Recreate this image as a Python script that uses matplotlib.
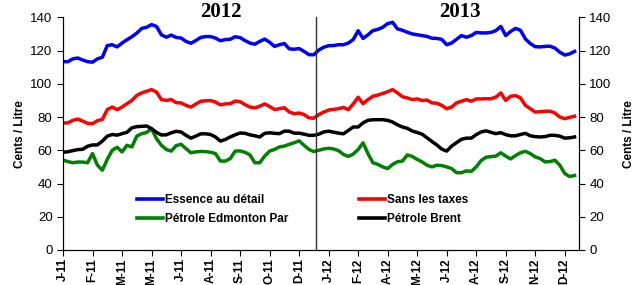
import matplotlib
matplotlib.use("Agg")
import matplotlib.pyplot as plt
import numpy as np

essence = [113.3, 113.3, 115.0, 115.5, 114.3, 113.3, 113.0, 115.0, 116.0, 123.0,
           123.5, 122.2, 124.5, 126.5, 128.3, 130.5, 133.3, 134.0, 135.6, 134.5,
           129.5, 128.0, 129.3, 127.9, 127.5, 125.5, 124.4, 126.0, 127.9, 128.4,
           128.4, 127.5, 125.9, 126.6, 126.8, 128.3, 127.8, 126.0, 124.5, 123.8,
           125.5, 126.9, 125.0, 122.5, 123.5, 124.2, 121.0, 120.8, 121.2, 119.5,
           117.5, 117.5, 120.3, 122.0, 122.9, 123.0, 123.5, 123.5, 124.5, 126.6,
           131.9, 127.3, 129.5, 132.0, 132.7, 134.0, 136.2, 137.0, 133.0, 132.2,
           131.0, 130.0, 129.5, 129.0, 128.5, 127.4, 127.3, 126.7, 123.5, 124.5,
           126.8, 129.0, 128.0, 129.0, 130.9, 130.6, 130.6, 130.9, 132.0, 134.5,
           129.0, 131.5, 133.3, 132.2, 127.0, 124.2, 122.3, 122.2, 122.5, 122.6,
           121.5, 119.0, 117.3, 118.0, 119.5]

sans_taxes = [76.4, 76.5, 78.0, 78.8, 77.5, 76.2, 76.0, 77.8, 78.6, 84.5,
              86.0, 84.4, 86.0, 88.0, 90.0, 93.0, 94.5, 95.5, 96.5, 95.0,
              90.5, 90.0, 90.5, 88.6, 88.5, 87.0, 86.0, 87.8, 89.5, 89.8,
              89.9, 89.0, 87.3, 87.9, 88.0, 89.6, 89.2, 87.5, 86.0, 85.5,
              86.5, 87.9, 86.3, 84.5, 85.0, 85.6, 83.0, 82.0, 82.4, 81.5,
              79.5, 79.3, 81.5, 83.0, 84.2, 84.6, 85.0, 85.8, 84.4, 87.9,
              91.9, 88.0, 90.5, 92.5, 93.2, 94.2, 95.2, 96.5, 94.5, 92.2,
              91.5, 90.5, 90.9, 89.9, 90.2, 88.5, 88.3, 87.0, 85.0, 86.0,
              88.5, 89.5, 90.5, 89.5, 90.9, 90.9, 91.0, 91.0, 92.0, 94.5,
              90.0, 92.5, 92.9, 91.5, 87.0, 85.0, 83.0, 83.2, 83.5, 83.5,
              82.4, 80.0, 79.0, 79.8, 80.5]

edmonton = [54.1, 53.2, 52.5, 52.9, 52.9, 52.5, 58.0, 51.0, 48.0, 54.5,
            60.0, 61.8, 59.0, 63.0, 62.0, 68.5, 70.0, 70.7, 73.0, 67.0,
            63.0, 60.5, 59.5, 62.8, 63.6, 61.0, 58.5, 59.0, 59.3, 59.2,
            58.8, 58.0, 53.5, 53.5, 55.0, 59.5, 59.6, 58.8, 57.2, 52.5,
            52.5, 56.5, 59.5, 60.5, 62.0, 62.5, 63.6, 64.5, 65.7, 63.0,
            60.5, 59.2, 60.0, 60.8, 61.2, 60.8, 59.8, 57.5, 56.3, 57.7,
            60.5, 64.5, 58.0, 52.5, 51.5, 50.0, 49.0, 51.5, 53.1, 53.5,
            57.2, 56.3, 54.5, 53.0, 51.0, 50.0, 51.0, 50.8, 50.0, 49.0,
            46.5, 46.5, 47.6, 47.3, 50.0, 53.8, 55.8, 56.2, 56.5, 58.5,
            56.5, 54.8, 56.8, 58.5, 59.4, 58.0, 56.0, 55.0, 53.0, 53.2,
            54.0, 51.0, 46.0, 44.2, 44.8]

brent = [58.8, 59.1, 59.8, 60.4, 60.6, 62.4, 63.2, 63.2, 65.5, 68.5,
         69.5, 69.1, 70.0, 70.8, 73.5, 74.2, 74.4, 74.6, 73.0, 70.8,
         69.2, 69.3, 70.5, 71.4, 71.0, 69.0, 67.3, 68.5, 69.9, 69.9,
         69.5, 68.0, 65.5, 66.5, 68.0, 69.3, 70.4, 70.2, 69.3, 68.7,
         68.0, 70.2, 70.5, 70.2, 70.0, 71.5, 71.5, 70.3, 70.3, 69.7,
         69.0, 69.0, 69.7, 71.0, 71.5, 70.9, 70.3, 69.9, 71.9, 74.0,
         74.0, 76.5, 78.0, 78.4, 78.4, 78.4, 78.0, 77.0, 75.3, 74.0,
         73.2, 71.6, 70.7, 69.7, 67.5, 65.3, 63.2, 60.7, 59.5, 62.5,
         64.6, 66.6, 67.3, 67.3, 69.4, 71.0, 71.7, 70.8, 70.0, 70.6,
         69.4, 68.7, 68.7, 69.5, 70.2, 68.7, 68.2, 68.0, 68.2, 69.0,
         69.0, 68.5, 67.3, 67.5, 68.0]

tick_labels = ['J-11', 'F-11', 'M-11', 'M-11', 'J-11', 'A-11', 'S-11', 'O-11', 'D-11',
               'J-12', 'F-12', 'A-12', 'M-12', 'J-12', 'A-12', 'S-12', 'N-12', 'D-12']
year_titles = ['2012', '2013']

plt.rcParams['font.family'] = ['Liberation Sans', 'DejaVu Sans']

fig = plt.figure(figsize=(6.42, 2.85), dpi=100)
ax = fig.add_axes([63/642, 1 - 250/285, 516/642, (250 - 17.3)/285])

x = np.arange(len(essence))
lw = 2.5
ax.plot(x, essence, color='#0000FF', lw=lw, label='Essence au détail')
ax.plot(x, edmonton, color='#008000', lw=lw, label='Pétrole Edmonton Par')
ax.plot(x, sans_taxes, color='#FF0000', lw=lw, label='Sans les taxes')
ax.plot(x, brent, color='#000000', lw=lw, label='Pétrole Brent')

ax.set_xlim(0, 104.9)
ax.set_ylim(0, 140)
ax.set_yticks(np.arange(0, 141, 20))
ax.set_xticks(np.arange(0, 6 * len(tick_labels), 6))
ax.set_xticklabels(tick_labels, rotation=90, fontweight='bold', fontsize=8.5)
ax.tick_params(axis='y', labelsize=9.5, direction='out', length=4, width=0.8)
ax.tick_params(axis='x', direction='out', length=4, width=0.8, pad=2)
ax.spines['top'].set_visible(False)
ax.set_ylabel('Cents / Litre', fontweight='bold', fontsize=8.5, labelpad=3)

ax2 = ax.twinx()
ax2.set_ylim(0, 140)
ax2.set_yticks(np.arange(0, 141, 20))
ax2.tick_params(axis='y', labelsize=9.5, direction='out', length=4, width=0.8)
ax2.spines['top'].set_visible(False)
ax2.set_ylabel('Cents / Litre', fontweight='bold', fontsize=8.5, labelpad=8)

ax.axvline(51.45, color='#333333', lw=1.0)

fig.text(221/642, 1 - 12/285, year_titles[0], ha='center', va='center',
         fontsize=15, fontweight='bold', family='Liberation Serif')
fig.text(460/642, 1 - 12/285, year_titles[1], ha='center', va='center',
         fontsize=15, fontweight='bold', family='Liberation Serif')

leg = ax.legend(ncol=2, loc='upper left', bbox_to_anchor=(129/642, 1 - 186/285),
                bbox_transform=fig.transFigure, frameon=False,
                prop={'weight': 'bold', 'size': 8.5}, handlelength=2.2,
                handletextpad=0.15, columnspacing=6.0, labelspacing=0.55,
                borderpad=0.2)
for h in leg.get_lines():
    h.set_linewidth(2.6)

fig.savefig('out.png', dpi=100)
